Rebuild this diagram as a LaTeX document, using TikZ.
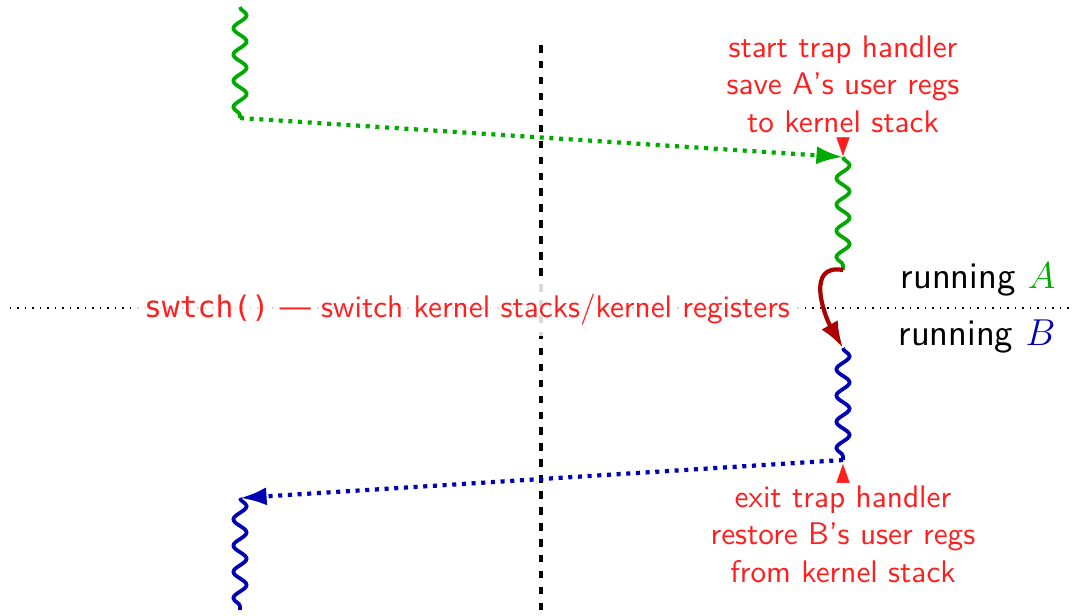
\documentclass[tikz,border=0pt]{standalone}
\usepackage{fontspec}
\setmonofont[Scale=0.95]{DejaVu Sans Mono}
\usetikzlibrary{decorations.pathmorphing, arrows.meta}
\definecolor{mygreen}{RGB}{0,170,0}
\definecolor{myblue}{RGB}{0,0,180}
\definecolor{mydarkred}{RGB}{170,0,0}
\definecolor{myred}{RGB}{255,30,30}
\begin{document}
\begin{tikzpicture}[x=0.32pt, y=-0.32pt, font=\sffamily,
  wave/.style={decorate, decoration={snake, amplitude=2.1pt, segment length=8.4pt}, line width=1.2pt},
  msg/.style={line width=1.35pt, dash pattern=on 1.3pt off 1.8pt, -{Latex[length=8.5pt,width=5.8pt]}},
  marker/.style={myred, line width=0.1pt, -{Triangle[length=6pt,width=4.2pt]}},
  note/.style={text=myred, align=center, inner sep=0pt},
  runlabel/.style={anchor=base east, inner sep=0pt, font=\sffamily\large}]
\useasboundingbox (0,0) rectangle (1072,616);
% horizontal separator and kernel line
\coordinate (lineL) at (10,308);
\coordinate (lineR) at (1072,308);
\draw[dotted] (lineL) -- (lineR);
\coordinate (kTop) at (541,45);
\coordinate (kBot) at (541,616);
\draw[line width=1.4pt, dash pattern=on 2.4pt off 2.7pt] (kTop) -- (kBot);
\node[fill=white, fill opacity=0.85, text opacity=1, text=myred, inner xsep=3.8pt, inner ysep=3.5pt, anchor=base] (swtch) at (467,317) {\texttt{swtch()} --- switch kernel stacks/kernel registers};
% points
\coordinate (a0) at (240,7);
\coordinate (a1) at (240,118);
\coordinate (a2) at (843,157);
\coordinate (a3) at (843,270);
\coordinate (b0) at (843,348);
\coordinate (b1) at (843,460);
\coordinate (b2) at (240,498);
\coordinate (b3) at (240,610);
% flows
\draw[wave, mygreen] (a0) -- (a1);
\draw[msg, mygreen] (a1) -- (a2);
\draw[wave, mygreen] (a2) -- (a3);
\draw[mydarkred, line width=1.35pt, -{Latex[length=8.5pt,width=6pt]}] (a3) to[out=170, in=120, looseness=1.25] (b0);
\draw[wave, myblue] (b0) -- (b1);
\draw[msg, myblue] (b1) -- (b2);
\draw[wave, myblue] (b2) -- (b3);
% notes and markers
\node[note, anchor=south] (noteA) at (843,133) {start trap handler\\save A's user regs\\to kernel stack};
\coordinate (mA) at (843,137);
\coordinate (tA) at (843,156);
\draw[marker] (mA) -- (tA);
\node[note, anchor=north] (noteB) at (843,485) {exit trap handler\\restore B's user regs\\from kernel stack};
\coordinate (mB) at (843,482);
\coordinate (tB) at (843,464);
\draw[marker] (mB) -- (tB);
% running labels
\node[runlabel] (runA) at (1056,288) {running $\color{mygreen}A$};
\node[runlabel] (runB) at (1056,345) {running $\color{myblue}B$};
\end{tikzpicture}
\end{document}
